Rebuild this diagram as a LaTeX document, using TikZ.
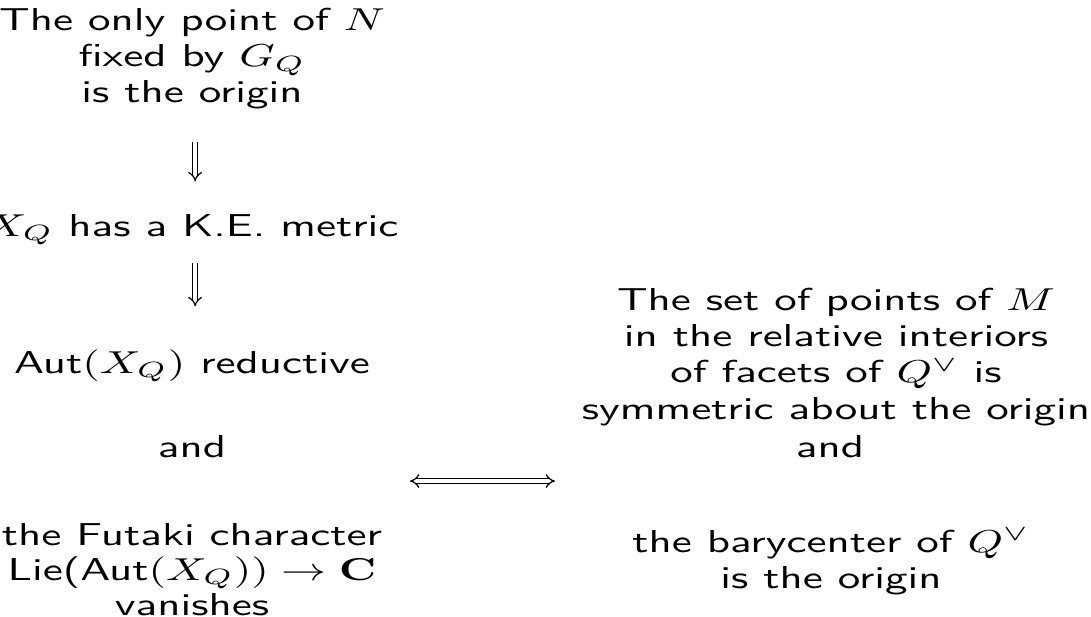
\documentclass[tikz,border=0pt]{standalone}
\usepackage{graphicx}
\usetikzlibrary{arrows}
\newcommand\stretched[1]{\scalebox{1.42}[1]{\begin{tabular}[t]{@{}c@{}}#1\end{tabular}}}
\begin{document}
\begin{tikzpicture}[x=0.3155pt,y=-0.3155pt,
  font=\sffamily\fontsize{10}{11.5}\selectfont,
  txt/.style={inner sep=0pt, anchor=base},
  impl/.style={double, double distance=1.1pt, line width=0.4pt, -implies},
  iff/.style={double, double distance=1.1pt, line width=0.4pt, implies-implies}]
\useasboundingbox (0,0) rectangle (1091,616);
\node[txt] (fix) at (192,30) {\stretched{The only point of $N$\\ fixed by $G_Q$\\ is the origin}};
\node[txt] (ke) at (192,236) {\stretched{$X_Q$ has a K.E. metric}};
\node[txt] (aut) at (192,373) {\stretched{Aut$(X_Q)$ reductive}};
\node[txt] (andL) at (192,457) {\stretched{and}};
\node[txt] (fut) at (192,545) {\stretched{the Futaki character\\[-0.4pt] Lie(Aut$(X_Q)) \to \mathbf{C}$\\[-0.4pt] vanishes}};
\node[txt] (sym) at (836,310) {\stretched{The set of points of $M$\\ in the relative interiors\\ of facets of $Q^\vee$ is\\ symmetric about the origin}};
\node[txt] (andR) at (830,457) {\stretched{and}};
\node[txt] (bary) at (831,552) {\stretched{the barycenter of $Q^\vee$\\ is the origin}};
\coordinate (l) at (410,481);
\coordinate (r) at (555,481);
\draw[impl, shorten <=8.8pt, shorten >=9pt] ([xshift=1pt]fix.south) -- ([xshift=1pt]ke.north);
\draw[impl, shorten <=5pt, shorten >=12.8pt] ([xshift=1pt]ke.south) -- ([xshift=1pt]aut.north);
\draw[iff] (l) -- (r);
\end{tikzpicture}
\end{document}
